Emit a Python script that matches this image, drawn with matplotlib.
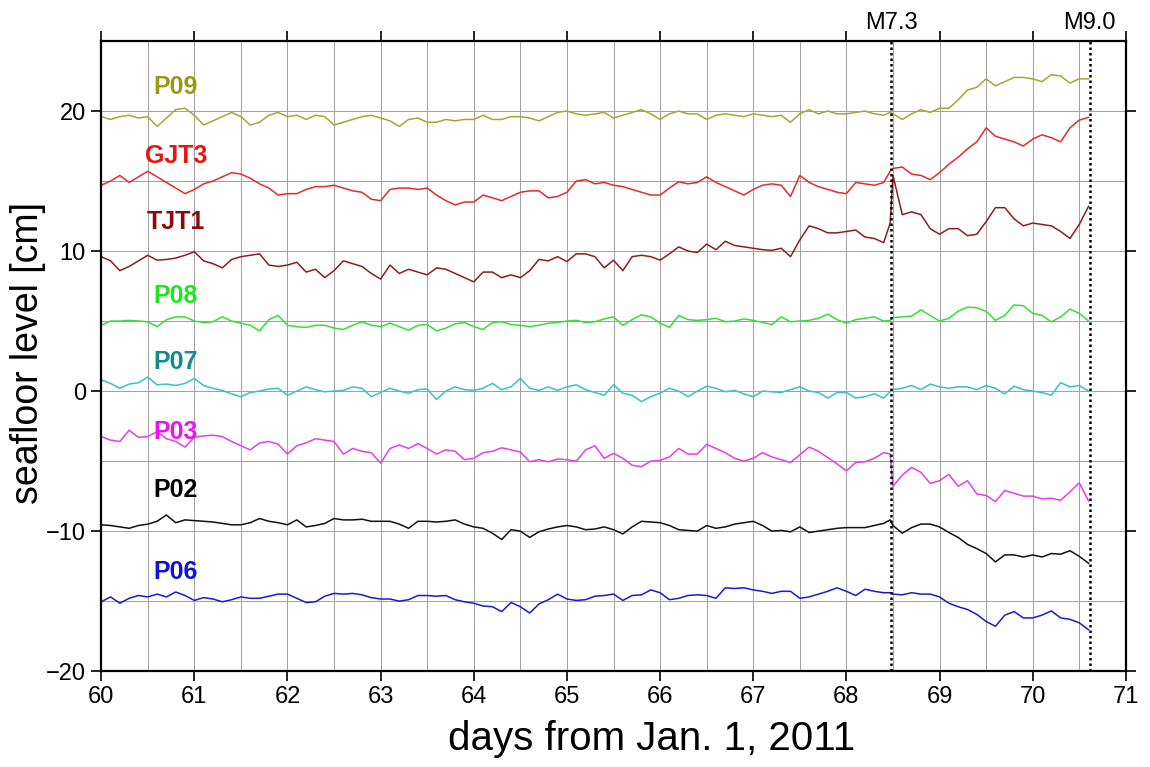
import matplotlib
matplotlib.use("Agg")
import matplotlib.pyplot as plt
from matplotlib.ticker import MultipleLocator

plt.rcParams['font.family'] = ['Liberation Sans', 'DejaVu Sans']

# sample times (days from Jan. 1, 2011), 0.1 day step plus one point just before the M7.3
days = [
    60.0, 60.1, 60.2, 60.3, 60.4, 60.5, 60.6, 60.7, 60.8, 60.9,
    61.0, 61.1, 61.2, 61.3, 61.4, 61.5, 61.6, 61.7, 61.8, 61.9,
    62.0, 62.1, 62.2, 62.3, 62.4, 62.5, 62.6, 62.7, 62.8, 62.9,
    63.0, 63.1, 63.2, 63.3, 63.4, 63.5, 63.6, 63.7, 63.8, 63.9,
    64.0, 64.1, 64.2, 64.3, 64.4, 64.5, 64.6, 64.7, 64.8, 64.9,
    65.0, 65.1, 65.2, 65.3, 65.4, 65.5, 65.6, 65.7, 65.8, 65.9,
    66.0, 66.1, 66.2, 66.3, 66.4, 66.5, 66.6, 66.7, 66.8, 66.9,
    67.0, 67.1, 67.2, 67.3, 67.4, 67.5, 67.6, 67.7, 67.8, 67.9,
    68.0, 68.1, 68.2, 68.3, 68.4, 68.47, 68.5, 68.6, 68.7, 68.8, 68.9,
    69.0, 69.1, 69.2, 69.3, 69.4, 69.5, 69.6, 69.7, 69.8, 69.9,
    70.0, 70.1, 70.2, 70.3, 70.4, 70.5, 70.6,
]

p09 = [
    19.6, 19.4, 19.6, 19.7, 19.5, 19.6, 18.9, 19.5, 20.1, 20.2,
    19.7, 19.0, 19.3, 19.6, 19.9, 19.6, 19.0, 19.2, 19.7, 19.9,
    19.6, 19.7, 19.4, 19.7, 19.6, 19.0, 19.2, 19.4, 19.6, 19.7,
    19.5, 19.3, 18.9, 19.4, 19.5, 19.2, 19.2, 19.4, 19.3, 19.4,
    19.4, 19.7, 19.4, 19.4, 19.6, 19.6, 19.5, 19.3, 19.6, 19.9,
    20.0, 19.8, 19.7, 19.8, 19.9, 19.5, 19.7, 19.9, 20.1, 19.8,
    19.4, 19.8, 20.0, 19.8, 19.8, 19.4, 19.7, 19.8, 19.7, 19.6,
    19.8, 19.7, 19.6, 19.7, 19.2, 19.8, 20.1, 19.8, 20.0, 19.8,
    19.8, 19.9, 20.0, 19.8, 19.7, 19.9, 19.8, 19.4, 19.8, 20.1, 19.9,
    20.2, 20.2, 20.8, 21.5, 21.7, 22.3, 21.8, 22.1, 22.4, 22.4,
    22.3, 22.1, 22.6, 22.5, 22.0, 22.3, 22.3,
]

gjt3 = [
    14.7, 15.0, 15.4, 14.9, 15.3, 15.7, 15.3, 14.9, 14.5, 14.1,
    14.4, 14.8, 15.0, 15.3, 15.6, 15.5, 15.2, 14.8, 14.5, 14.0,
    14.1, 14.1, 14.4, 14.6, 14.6, 14.7, 14.5, 14.3, 14.2, 13.7,
    13.6, 14.4, 14.5, 14.5, 14.4, 14.5, 14.0, 13.6, 13.3, 13.5,
    13.5, 14.0, 13.8, 13.6, 13.9, 14.2, 14.3, 14.3, 13.8, 13.9,
    14.2, 15.0, 15.1, 14.8, 14.9, 14.7, 14.6, 14.4, 14.2, 14.0,
    14.0, 14.5, 14.95, 14.8, 14.9, 15.3, 14.9, 14.6, 14.3, 14.0,
    14.4, 14.7, 14.8, 14.7, 13.9, 15.4, 14.9, 14.6, 14.4, 14.2,
    14.1, 14.9, 14.8, 14.7, 14.9, 15.7, 15.9, 16.0, 15.5, 15.4, 15.1,
    15.6, 16.2, 16.7, 17.3, 17.8, 18.8, 18.2, 18.0, 17.8, 17.5,
    18.0, 18.3, 18.1, 17.8, 18.8, 19.35, 19.55,
]

tjt1 = [
    9.6, 9.3, 8.6, 8.9, 9.3, 9.7, 9.35, 9.4, 9.5, 9.7,
    9.95, 9.3, 9.1, 8.8, 9.4, 9.6, 9.7, 9.8, 9.0, 8.9,
    9.0, 9.2, 8.5, 8.7, 8.1, 8.6, 9.3, 9.1, 8.9, 8.4,
    8.0, 9.0, 8.4, 8.7, 8.5, 8.3, 8.8, 8.7, 8.4, 8.1,
    7.8, 8.5, 8.5, 8.1, 8.3, 8.1, 8.6, 9.4, 9.3, 9.6,
    9.25, 9.8, 9.8, 9.6, 8.8, 9.35, 8.6, 9.6, 9.7, 9.6,
    9.35, 9.8, 10.3, 10.0, 9.9, 10.5, 10.1, 10.7, 10.4, 10.3,
    10.2, 10.1, 10.05, 10.2, 9.6, 10.8, 11.8, 11.6, 11.3, 11.3,
    11.4, 11.5, 11.0, 10.9, 10.6, 12.0, 15.4, 12.6, 12.8, 12.6, 11.6,
    11.2, 11.6, 11.6, 11.1, 11.2, 12.1, 13.1, 13.1, 12.3, 11.8,
    12.0, 11.9, 11.8, 11.4, 10.9, 11.9, 13.2,
]

p08 = [
    4.7, 5.0, 5.0, 5.05, 5.0, 4.95, 4.6, 5.1, 5.3, 5.3,
    5.0, 4.9, 4.95, 5.3, 5.0, 4.85, 4.7, 4.3, 5.1, 5.4,
    4.7, 4.6, 4.55, 4.7, 4.7, 4.5, 4.4, 4.7, 4.95, 4.7,
    4.6, 4.85, 4.6, 4.35, 4.7, 4.75, 4.3, 4.5, 4.8, 4.9,
    4.6, 4.4, 4.9, 4.95, 4.75, 4.7, 4.6, 4.7, 4.85, 4.9,
    5.0, 5.05, 4.9, 4.95, 5.15, 5.3, 4.7, 5.1, 5.45, 5.3,
    4.85, 4.55, 5.4, 5.1, 5.05, 5.1, 5.2, 4.95, 5.0, 5.15,
    5.05, 4.9, 4.75, 5.3, 4.95, 5.0, 5.05, 5.2, 5.5, 5.1,
    4.85, 5.1, 5.2, 5.3, 5.0, 5.05, 5.25, 5.3, 5.35, 5.8, 5.4,
    5.0, 5.2, 5.7, 6.0, 5.95, 5.7, 5.05, 5.4, 6.15, 6.1,
    5.55, 5.4, 4.95, 5.3, 5.85, 5.55, 5.0,
]

p07 = [
    0.8, 0.55, 0.2, 0.5, 0.6, 1.0, 0.45, 0.5, 0.4, 0.55,
    0.9, 0.4, 0.2, 0.05, -0.2, -0.4, -0.1, 0.0, 0.15, 0.2,
    -0.3, 0.0, 0.3, 0.1, -0.05, 0.0, 0.05, 0.3, 0.2, -0.4,
    -0.1, 0.2, 0.0, -0.15, 0.1, 0.15, -0.6, 0.0, 0.3, 0.1,
    0.05, 0.2, 0.55, 0.1, 0.3, 0.9, 0.2, 0.05, 0.3, 0.05,
    0.3, 0.45, 0.1, -0.1, -0.3, 0.45, -0.15, -0.3, -0.75, -0.4,
    -0.15, 0.2, 0.0, -0.4, 0.0, 0.35, 0.2, -0.05, 0.05, -0.2,
    -0.4, 0.0, -0.05, -0.1, 0.1, 0.3, 0.0, -0.1, -0.5, -0.1,
    -0.1, -0.5, -0.4, -0.2, -0.5, -0.05, 0.1, 0.2, 0.4, 0.1, 0.5,
    0.3, 0.2, 0.3, 0.3, 0.1, 0.4, 0.2, -0.2, 0.35, 0.1,
    0.0, -0.1, -0.3, 0.6, 0.3, 0.4, 0.0,
]

p03 = [
    -3.25, -3.5, -3.6, -2.8, -3.3, -3.25, -2.9, -3.4, -3.6, -4.0,
    -3.3, -3.2, -3.15, -3.25, -3.6, -3.9, -4.2, -3.7, -3.6, -3.8,
    -4.5, -3.9, -3.7, -3.4, -3.5, -3.6, -4.5, -4.1, -4.3, -4.4,
    -5.15, -4.1, -3.85, -4.1, -3.75, -4.1, -4.5, -4.2, -4.3, -4.9,
    -4.8, -4.4, -4.3, -4.05, -4.2, -4.35, -5.05, -4.9, -5.05, -4.85,
    -4.9, -5.0, -4.2, -3.9, -4.8, -4.45, -4.8, -5.3, -5.4, -5.0,
    -4.95, -4.7, -4.1, -4.5, -4.5, -3.8, -4.1, -4.4, -4.8, -5.0,
    -4.8, -4.4, -4.7, -4.9, -5.1, -4.55, -4.0, -4.3, -4.75, -5.2,
    -5.7, -5.1, -5.05, -4.8, -4.4, -4.5, -6.8, -6.0, -5.45, -5.8, -6.6,
    -6.4, -5.95, -6.8, -6.4, -7.35, -7.45, -7.9, -7.1, -7.3, -7.5,
    -7.5, -7.7, -7.65, -7.8, -7.2, -6.55, -7.85,
]

p02 = [
    -9.55, -9.6, -9.7, -9.8, -9.6, -9.5, -9.3, -8.85, -9.4, -9.2,
    -9.25, -9.3, -9.35, -9.45, -9.55, -9.55, -9.4, -9.1, -9.3, -9.4,
    -9.55, -9.2, -9.7, -9.6, -9.45, -9.1, -9.2, -9.2, -9.15, -9.3,
    -9.3, -9.3, -9.5, -9.8, -9.3, -9.3, -9.35, -9.3, -9.2, -9.5,
    -9.7, -9.8, -10.15, -10.6, -9.9, -10.0, -10.45, -10.05, -9.85, -9.7,
    -9.6, -9.7, -9.9, -9.85, -9.7, -9.9, -10.2, -9.7, -9.3, -9.35,
    -9.4, -9.6, -9.9, -9.95, -10.0, -9.6, -9.8, -9.7, -9.5, -9.4,
    -9.3, -9.6, -10.0, -9.95, -10.05, -9.7, -10.1, -10.0, -9.9, -9.8,
    -9.75, -9.75, -9.75, -9.6, -9.45, -9.2, -9.6, -10.15, -9.75, -9.5, -9.5,
    -9.7, -10.1, -10.45, -10.95, -11.25, -11.6, -12.2, -11.7, -11.7, -11.85,
    -11.7, -11.85, -11.6, -11.65, -11.4, -11.8, -12.3,
]

p06 = [
    -15.05, -14.7, -15.15, -14.8, -14.6, -14.7, -14.5, -14.7, -14.35, -14.6,
    -14.95, -14.75, -14.85, -15.05, -14.9, -14.7, -14.8, -14.8, -14.65, -14.5,
    -14.5, -14.8, -15.1, -15.05, -14.65, -14.45, -14.5, -14.45, -14.55, -14.75,
    -14.85, -14.85, -15.0, -14.9, -14.6, -14.6, -14.65, -14.6, -14.9, -15.05,
    -15.15, -15.35, -15.4, -15.75, -15.1, -15.4, -15.85, -15.2, -14.9, -14.5,
    -14.85, -14.95, -14.9, -14.65, -14.6, -14.5, -14.95, -14.6, -14.55, -14.2,
    -14.4, -14.9, -14.8, -14.6, -14.55, -14.6, -14.8, -14.05, -14.1, -14.05,
    -14.2, -14.3, -14.45, -14.3, -14.3, -14.8, -14.7, -14.5, -14.3, -14.05,
    -14.3, -14.6, -14.15, -14.3, -14.4, -14.4, -14.5, -14.55, -14.4, -14.5, -14.5,
    -14.7, -15.15, -15.4, -15.6, -15.95, -16.45, -16.8, -16.0, -15.75, -16.2,
    -16.2, -16.0, -15.7, -16.2, -16.3, -16.55, -17.05,
]

names = ['P09', 'GJT3', 'TJT1', 'P08', 'P07', 'P03', 'P02', 'P06']
series = [p09, gjt3, tjt1, p08, p07, p03, p02, p06]
line_colors = ['#a6a632', '#e82a2a', '#8e1e1e', '#33e033', '#33c4c4', '#e63ee6', '#111111', '#1a1ad6']
label_colors = ['#9a9a10', '#ee1111', '#8b0a0a', '#1ee61e', '#118c8c', '#ee11ee', '#000000', '#1010dd']
label_y = [21.7, 16.8, 12.1, 6.8, 2.1, -2.9, -7.1, -12.9]

quakes = [68.48, 70.61]
quake_names = ['M7.3', 'M9.0']

fig = plt.figure(figsize=(11.5, 7.67), dpi=100)
ax = fig.add_axes([0.088, 0.125, 0.891, 0.8215])

for name, vals, lc, tc, ly in zip(names, series, line_colors, label_colors, label_y):
    ax.plot(days, vals, color=lc, lw=1.1)
    ax.text(60.8, ly, name, color=tc, fontsize=18, fontweight='bold',
            ha='center', va='center')

for q, qn in zip(quakes, quake_names):
    ax.axvline(q, color='black', lw=1.8, linestyle=(0, (1, 1.2)))
    ax.text(q, 25.5, qn, ha='center', va='bottom', fontsize=17)

ax.set_xlim(60, 71)
ax.set_ylim(-20, 25)
ax.xaxis.set_major_locator(MultipleLocator(1))
ax.xaxis.set_minor_locator(MultipleLocator(0.5))
ax.yaxis.set_major_locator(MultipleLocator(10))
ax.yaxis.set_minor_locator(MultipleLocator(5))
ax.grid(True, which='both', color='#a0a0a0', lw=0.7)
ax.set_axisbelow(True)

ax.tick_params(which='major', direction='out', length=7, width=1.2,
               top=True, right=True, labelsize=17, pad=4)
ax.tick_params(which='minor', length=0)
ax.set_yticks([-20, -10, 0, 10, 20])
ax.set_yticklabels(['\u221220', '\u221210', '0', '10', '20'])
for s in ax.spines.values():
    s.set_linewidth(1.6)

ax.set_xlabel('days from Jan. 1, 2011', fontsize=29)
ax.xaxis.set_label_coords(0.537, -0.078)
ax.set_ylabel('seafloor level [cm]', fontsize=27)
ax.yaxis.set_label_coords(-0.054, 0.505)

fig.savefig('out.png', dpi=100)
